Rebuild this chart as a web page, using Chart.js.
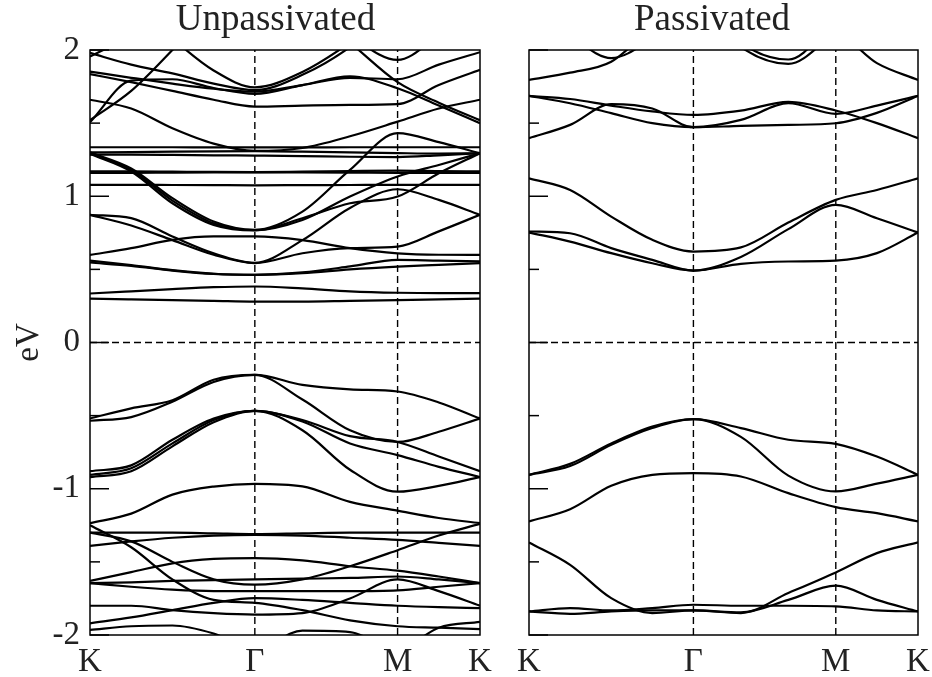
<!DOCTYPE html>
<html>
<head>
<meta charset="utf-8">
<script src="https://cdn.jsdelivr.net/npm/chart.js@4.4.0/dist/chart.umd.min.js"></script>
<style>
    html, body { margin: 0; padding: 0; background: #fff; }
    #wrap { position: relative; width: 932px; height: 677px; overflow: hidden; }
    #wrap canvas { position: absolute; top: 0; }
</style>
</head>
<body>
<div id="wrap">
    <canvas id="unpass" width="551" height="677" style="left:0px"></canvas>
    <canvas id="pass" width="440" height="677" style="left:492px"></canvas>
</div>
<script>
// k-path K -> Gamma -> M -> K, sample points shared by every band
const kPath = [0, 0.25, 0.5, 0.75, 1, 1.2887, 1.5773, 1.866, 2.116, 2.366];
const kTicks = [0, 1, 1.866, 2.366];
const kLabels = ['K', 'Γ', 'M', 'K'];
const eLabels = [-2, -1, 0, 1, 2];
const eMarks = [-2, -1.5, -1, -0.5, 0, 0.5, 1, 1.5, 2];

// Unpassivated bands (eV)
const uV1a = [-0.52, -0.45, -0.395, -0.255, -0.222, -0.29, -0.32, -0.335, -0.41, -0.52];
const uV1b = [-0.535, -0.51, -0.405, -0.27, -0.222, -0.39, -0.60, -0.68, -0.61, -0.52];
const uV2a = [-0.88, -0.84, -0.665, -0.52, -0.467, -0.53, -0.64, -0.68, -0.78, -0.88];
const uV2b = [-0.905, -0.86, -0.69, -0.53, -0.467, -0.54, -0.69, -0.77, -0.85, -0.92];
const uV2c = [-0.92, -0.88, -0.71, -0.545, -0.467, -0.60, -0.87, -1.02, -0.98, -0.92];
const uV3 = [-1.235, -1.17, -1.04, -0.985, -0.966, -0.984, -1.09, -1.15, -1.20, -1.235];
const uW1 = [-1.30, -1.30, -1.30, -1.305, -1.31, -1.305, -1.30, -1.30, -1.30, -1.30];
const uW2 = [-1.39, -1.36, -1.335, -1.32, -1.315, -1.32, -1.335, -1.35, -1.37, -1.39];
const uW3 = [-1.25, -1.40, -1.62, -1.76, -1.78, -1.83, -1.90, -1.94, -1.95, -1.96];
const uW4 = [-1.30, -1.36, -1.50, -1.62, -1.656, -1.62, -1.53, -1.42, -1.32, -1.24];
const uW5 = [-1.63, -1.57, -1.51, -1.48, -1.474, -1.49, -1.53, -1.56, -1.60, -1.645];
const uW6 = [-1.645, -1.64, -1.63, -1.625, -1.62, -1.615, -1.61, -1.60, -1.62, -1.645];
const uW7 = [-1.645, -1.67, -1.69, -1.70, -1.70, -1.70, -1.70, -1.695, -1.67, -1.645];
const uW8 = [-1.80, -1.80, -1.83, -1.85, -1.86, -1.85, -1.75, -1.62, -1.70, -1.80];
const uW9 = [-1.92, -1.88, -1.83, -1.78, -1.748, -1.76, -1.78, -1.80, -1.81, -1.816];
const uW10 = [-1.965, -1.94, -1.935, -1.99, -2.1, -1.97, -1.98, -2.1, -1.95, -1.91];
const uL1 = [0.30, 0.295, 0.29, 0.285, 0.28, 0.28, 0.285, 0.29, 0.295, 0.30];
const uL2 = [0.335, 0.35, 0.365, 0.378, 0.383, 0.37, 0.35, 0.34, 0.337, 0.337];
const uL3 = [0.547, 0.524, 0.492, 0.469, 0.463, 0.474, 0.50, 0.519, 0.531, 0.543];
const uL3b = [0.56, 0.53, 0.495, 0.47, 0.463, 0.48, 0.52, 0.565, 0.56, 0.555];
const uL4a = [0.873, 0.85, 0.725, 0.61, 0.545, 0.70, 0.92, 1.048, 0.975, 0.873];
const uL4b = [0.873, 0.80, 0.70, 0.60, 0.543, 0.61, 0.645, 0.656, 0.76, 0.873];
const uL5 = [0.599, 0.645, 0.702, 0.725, 0.725, 0.70, 0.645, 0.61, 0.60, 0.599];
const uC1 = [1.30, 1.19, 0.987, 0.827, 0.770, 0.895, 1.18, 1.431, 1.37, 1.294];
const uC2 = [1.295, 1.18, 0.97, 0.815, 0.768, 0.838, 0.998, 1.135, 1.214, 1.294];
const uC3 = [1.29, 1.169, 0.952, 0.804, 0.766, 0.85, 0.952, 0.998, 1.157, 1.294];
const uF1 = [1.078, 1.078, 1.077, 1.076, 1.075, 1.076, 1.077, 1.078, 1.078, 1.078];
const uF2 = [1.17, 1.17, 1.168, 1.166, 1.165, 1.168, 1.172, 1.175, 1.172, 1.17];
const uF3 = [1.16, 1.16, 1.162, 1.163, 1.163, 1.163, 1.162, 1.16, 1.16, 1.16];
const uF4 = [1.335, 1.335, 1.335, 1.334, 1.334, 1.334, 1.335, 1.335, 1.335, 1.335];
const uF5 = [1.30, 1.302, 1.305, 1.307, 1.308, 1.305, 1.30, 1.295, 1.292, 1.294];
const uF6 = [1.285, 1.285, 1.283, 1.28, 1.278, 1.275, 1.27, 1.268, 1.28, 1.294];
const uU1 = [1.66, 1.60, 1.465, 1.36, 1.31, 1.33, 1.41, 1.51, 1.60, 1.66];
const uU2 = [2.6, 2.35, 2.08, 1.86, 1.745, 1.85, 2.05, 2.3, 2.3, 2.3];
const uU3 = [1.98, 1.90, 1.84, 1.77, 1.725, 1.83, 2.02, 2.3, 2.2, 2.1];
const uU4 = [1.852, 1.81, 1.77, 1.735, 1.715, 1.76, 1.81, 1.80, 1.90, 1.985];
const uU5 = [1.506, 1.79, 1.80, 1.74, 1.70, 1.76, 1.82, 1.738, 1.62, 1.50];
const uU6 = [1.835, 1.78, 1.72, 1.66, 1.613, 1.62, 1.625, 1.63, 1.76, 1.864];
const uU7 = [2.5, 2.5, 2.5, 2.5, 2.5, 2.35, 2.1, 1.932, 2.1, 2.3];
const uU8 = [1.52, 1.72, 2.0, 2.3, 2.4, 2.4, 2.4, 2.4, 2.4, 2.4];
const uU9 = [2.4, 2.4, 2.4, 2.4, 2.4, 2.3, 2.05, 1.78, 1.64, 1.52];
const uU10 = [1.955, 2.1, 2.3, 2.4, 2.4, 2.4, 2.4, 2.4, 2.4, 2.4];

// Passivated bands (eV)
const pP1 = [1.795, 1.845, 1.92, 2.15, 2.3, 2.25, 2.15, 2.12, 1.91, 1.795];
const pP2 = [2.3, 2.1, 1.945, 2.08, 2.3, 2.4, 2.4, 2.4, 2.4, 2.4];
const pP3 = [2.4, 2.4, 2.4, 2.4, 2.4, 2.05, 1.935, 2.2, 2.4, 2.4];
const pP4 = [2.4, 2.4, 2.4, 2.4, 2.35, 2.02, 1.905, 2.12, 2.3, 2.4];
const pQ1 = [1.686, 1.665, 1.62, 1.58, 1.556, 1.585, 1.645, 1.586, 1.50, 1.397];
const pQ2 = [1.686, 1.636, 1.568, 1.50, 1.472, 1.522, 1.636, 1.563, 1.62, 1.686];
const pQ3 = [1.397, 1.488, 1.63, 1.60, 1.472, 1.481, 1.488, 1.499, 1.57, 1.686];
const pR1 = [1.123, 1.043, 0.861, 0.702, 0.622, 0.65, 0.82, 0.975, 1.043, 1.123];
const pR2 = [0.759, 0.747, 0.645, 0.565, 0.492, 0.585, 0.775, 0.941, 0.85, 0.752];
const pR3 = [0.752, 0.69, 0.611, 0.542, 0.492, 0.538, 0.554, 0.56, 0.611, 0.752];
const pS1 = [-0.905, -0.83, -0.69, -0.575, -0.524, -0.585, -0.665, -0.693, -0.78, -0.905];
const pS2 = [-0.905, -0.845, -0.70, -0.585, -0.524, -0.645, -0.91, -1.018, -0.965, -0.905];
const pS3 = [-1.223, -1.14, -0.98, -0.905, -0.893, -0.916, -1.03, -1.126, -1.167, -1.223];
const pS4 = [-1.367, -1.52, -1.748, -1.85, -1.832, -1.85, -1.713, -1.572, -1.44, -1.367];
const pS5 = [-1.839, -1.816, -1.832, -1.816, -1.793, -1.80, -1.80, -1.804, -1.832, -1.839];
const pS6 = [-1.839, -1.855, -1.839, -1.832, -1.832, -1.845, -1.76, -1.663, -1.76, -1.839];

const unpassivatedBands = [uV1a, uV1b, uV2a, uV2b, uV2c, uV3, uW1, uW2, uW3, uW4, uW5, uW6, uW7, uW8, uW9, uW10,
    uL1, uL2, uL3, uL3b, uL4a, uL4b, uL5, uC1, uC2, uC3, uF1, uF2, uF3, uF4, uF5, uF6,
    uU1, uU2, uU3, uU4, uU5, uU6, uU7, uU8, uU9, uU10];
const passivatedBands = [pP1, pP2, pP3, pP4, pQ1, pQ2, pQ3, pR1, pR2, pR3, pS1, pS2, pS3, pS4, pS5, pS6];

const serif = "'Liberation Serif', 'Times New Roman', serif";
const kEnd = kPath[kPath.length - 1];

// frame round the plot area plus inward energy ticks
const framePlugin = {
    id: 'frame',
    afterDatasetsDraw(chart) {
        const { ctx, chartArea: a, scales: { y } } = chart;
        ctx.save();
        ctx.strokeStyle = '#000';
        ctx.lineWidth = 1.5;
        ctx.strokeRect(a.left, a.top, a.right - a.left, a.bottom - a.top);
        eMarks.forEach(v => {
            const py = y.getPixelForValue(v);
            const len = Number.isInteger(v) ? 19 : 10;
            ctx.beginPath();
            ctx.moveTo(a.left, py);
            ctx.lineTo(a.left + len, py);
            ctx.stroke();
        });
        ctx.restore();
    }
};

function bandSet(values) {
    return {
        data: values.map((e, i) => ({ x: kPath[i], y: e })),
        borderColor: '#000',
        borderWidth: 2.2,
        pointRadius: 0,
        cubicInterpolationMode: 'monotone',
        fill: false
    };
}

function guideSet(points) {
    return {
        data: points,
        borderColor: '#000',
        borderWidth: 1.4,
        borderDash: [7, 4],
        pointRadius: 0,
        fill: false
    };
}

function makePanel(id, title, bands, showLabels, leftWidth, rightWidth) {
    const guides = [
        guideSet([{ x: 0, y: 0 }, { x: kEnd, y: 0 }]),
        guideSet([{ x: kTicks[1], y: -2 }, { x: kTicks[1], y: 2 }]),
        guideSet([{ x: kTicks[2], y: -2 }, { x: kTicks[2], y: 2 }])
    ];
    new Chart(document.getElementById(id), {
        type: 'line',
        data: { datasets: guides.concat(bands.map(bandSet)) },
        options: {
            responsive: false,
            animation: false,
            events: [],
            layout: { padding: 0 },
            plugins: {
                legend: { display: false },
                tooltip: { enabled: false },
                title: {
                    display: true,
                    text: title,
                    color: '#222',
                    font: { family: serif, size: 37, weight: 'normal', lineHeight: 1 },
                    padding: { top: 2, bottom: 11 }
                }
            },
            scales: {
                x: {
                    type: 'linear',
                    min: 0,
                    max: kEnd,
                    grid: { display: false, drawTicks: false },
                    border: { display: false },
                    afterBuildTicks: s => { s.ticks = kTicks.map(v => ({ value: v })); },
                    ticks: {
                        autoSkip: false,
                        maxRotation: 0,
                        padding: 8,
                        color: '#222',
                        font: { family: serif, size: 33 },
                        callback: (v, i) => kLabels[i]
                    },
                    afterFit: s => { s.height = 42; s.paddingLeft = 0; s.paddingRight = 0; }
                },
                y: {
                    type: 'linear',
                    position: 'left',
                    min: -2,
                    max: 2,
                    grid: { display: false, drawTicks: false },
                    border: { display: false },
                    afterBuildTicks: s => { s.ticks = eLabels.map(v => ({ value: v })); },
                    ticks: {
                        display: showLabels,
                        padding: 10,
                        color: '#222',
                        font: { family: serif, size: 33 },
                        callback: v => String(v)
                    },
                    title: {
                        display: showLabels,
                        text: 'eV',
                        color: '#222',
                        font: { family: serif, size: 33, lineHeight: 1 },
                        padding: { top: 13, bottom: 0 }
                    },
                    afterFit: s => { s.width = leftWidth; }
                },
                yr: {
                    type: 'linear',
                    position: 'right',
                    grid: { display: false, drawTicks: false },
                    border: { display: false },
                    ticks: { display: false },
                    afterFit: s => { s.width = rightWidth; }
                }
            }
        },
        plugins: [framePlugin]
    });
}

makePanel('unpass', 'Unpassivated', unpassivatedBands, true, 90, 71);
makePanel('pass', 'Passivated', passivatedBands, false, 37, 14);
</script>
</body>
</html>
